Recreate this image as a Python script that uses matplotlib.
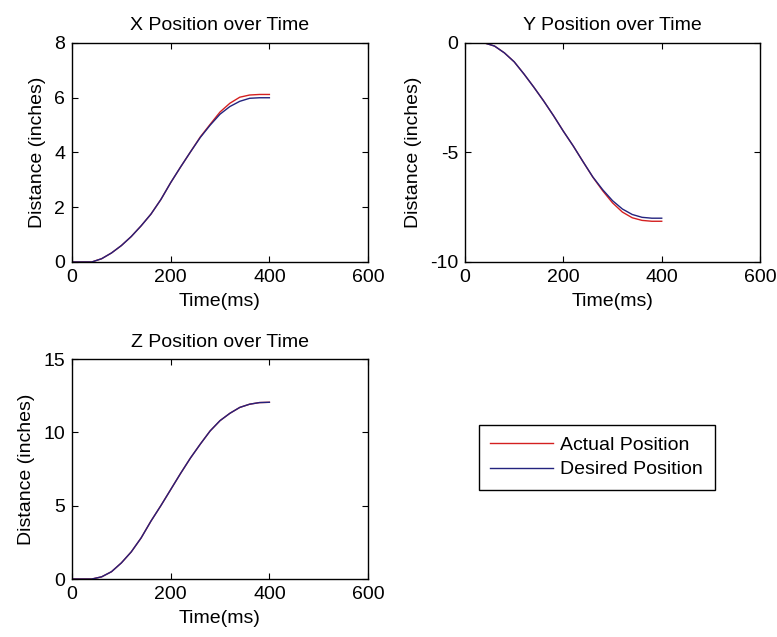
import numpy as np
import matplotlib
matplotlib.use('Agg')
import matplotlib.pyplot as plt

# time samples (ms)
t = [0, 20, 40, 60, 80, 100, 120, 140, 160, 180, 200,
     220, 240, 260, 280, 300, 320, 340, 360, 380, 400]

x_desired = [0, 0, 0, 0.12, 0.33, 0.6, 0.93, 1.32, 1.75, 2.28, 2.9,
             3.47, 4.02, 4.55, 5.0, 5.4, 5.68, 5.87, 5.98, 6.0, 6.0]
x_actual = [0, 0, 0, 0.12, 0.33, 0.6, 0.93, 1.32, 1.75, 2.28, 2.9,
            3.47, 4.02, 4.57, 5.03, 5.48, 5.8, 6.02, 6.1, 6.12, 6.12]

y_desired = [0, 0, 0, -0.14, -0.45, -0.86, -1.42, -2.02, -2.65, -3.32, -4.03,
             -4.7, -5.42, -6.12, -6.7, -7.2, -7.58, -7.83, -7.96, -8.0, -8.0]
y_actual = [0, 0, 0, -0.14, -0.45, -0.86, -1.42, -2.02, -2.65, -3.32, -4.03,
            -4.7, -5.42, -6.13, -6.75, -7.3, -7.72, -7.98, -8.1, -8.14, -8.14]

z_desired = [0, 0, 0, 0.15, 0.5, 1.1, 1.85, 2.8, 3.95, 5.0, 6.1,
             7.2, 8.25, 9.2, 10.1, 10.8, 11.3, 11.7, 11.92, 12.03, 12.05]
z_actual = [0, 0, 0, 0.15, 0.5, 1.1, 1.85, 2.8, 3.95, 5.0, 6.1,
            7.2, 8.25, 9.2, 10.1, 10.8, 11.3, 11.7, 11.92, 12.03, 12.05]

titles = ['X Position over Time', 'Y Position over Time', 'Z Position over Time']
ylims = [(0, 8), (-10, 0), (0, 15)]
yticks = [[0, 2, 4, 6, 8], [-10, -5, 0], [0, 5, 10, 15]]
xticks = [0, 200, 400, 600]

plt.rcParams['font.family'] = ['Liberation Sans', 'DejaVu Sans']
plt.rcParams['font.size'] = 14
plt.rcParams['axes.unicode_minus'] = False

fig = plt.figure(figsize=(7.77, 6.37), dpi=100)
positions = [[0.0927, 0.5887, 0.381, 0.3438],
             [0.5985, 0.5887, 0.3797, 0.3438],
             [0.0927, 0.0910, 0.381, 0.3454]]
series = [(x_actual, x_desired), (y_actual, y_desired), (z_actual, z_desired)]

red = '#d42020'
blue = '#23237e'

for i in range(3):
    ax = fig.add_axes(positions[i])
    act, des = series[i]
    la, = ax.plot(t, act, color=red, lw=1.0)
    ld, = ax.plot(t, des, color=blue, lw=1.0)
    ax.set_xlim(0, 600)
    ax.set_ylim(*ylims[i])
    ax.set_xticks(xticks)
    ax.set_yticks(yticks[i])
    ax.tick_params(direction='in', top=True, right=True, length=4, width=0.8,
                   pad=5, labelsize=14)
    for s in ax.spines.values():
        s.set_linewidth(1.0)
    ax.set_title(titles[i], fontsize=14, pad=9)
    ax.set_xlabel('Time(ms)', labelpad=5)
    ax.set_ylabel('Distance (inches)', labelpad=6)

leg = fig.legend([la, ld], ['Actual Position', 'Desired Position'],
                 loc='center', bbox_to_anchor=(0.768, 0.282), fontsize=14,
                 fancybox=False, framealpha=1, edgecolor='black',
                 handlelength=3.2, borderpad=0.6, labelspacing=0.35, handletextpad=0.4)
leg.get_frame().set_linewidth(1.0)

fig.savefig('out.png', dpi=100)
